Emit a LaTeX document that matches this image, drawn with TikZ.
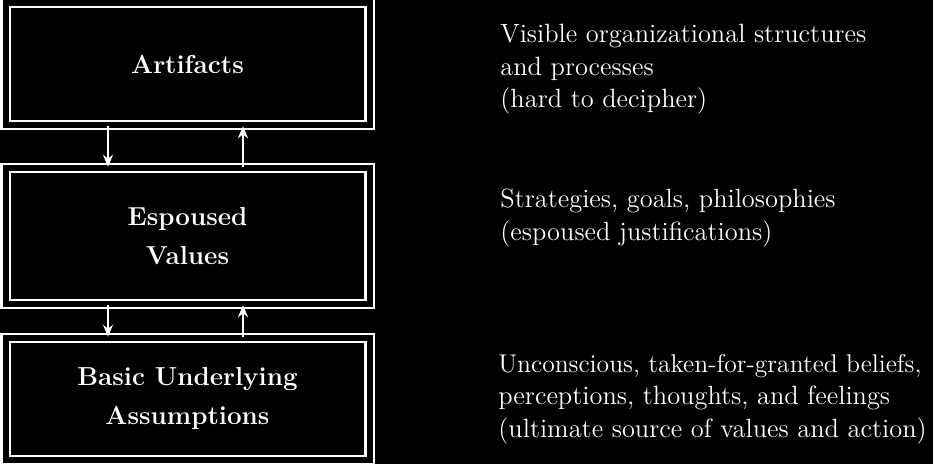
\documentclass[tikz,border=0pt]{standalone}
\usetikzlibrary{calc,arrows.meta}
\begin{document}
\begin{tikzpicture}[x=0.5pt,y=-0.5pt,
  layer/.style={draw=white, line width=1.2pt, double=black, double distance=3pt,
    minimum width=182pt, text=white, align=center,
    font=\fontsize{13}{19.5}\selectfont\bfseries},
  note/.style={anchor=north west, inner sep=0pt, text=white, align=left,
    font=\fontsize{13.2}{16.2}\selectfont},
  arr/.style={draw=white, line width=1.2pt, -{Stealth[length=6pt,width=5pt]}}]
\fill[black] (0,0) rectangle (933,464);
\useasboundingbox (0,0) rectangle (933,464);
\node[layer, minimum height=61pt] (art) at (187.5,64) {Artifacts};
\node[layer, minimum height=68pt] (val) at (187.5,236) {Espoused\\Values};
\node[layer, minimum height=61pt] (bas) at (187.5,399) {Basic Underlying\\Assumptions};
\draw[arr] ($(art.south)+(-79.5,0)$) -- ($(val.north)+(-79.5,0)$);
\draw[arr] ($(val.north)+(55.5,0)$) -- ($(art.south)+(55.5,0)$);
\draw[arr] ($(val.south)+(-79.5,0)$) -- ($(bas.north)+(-79.5,0)$);
\draw[arr] ($(bas.north)+(55.5,0)$) -- ($(val.south)+(55.5,0)$);
\node[note] (n1) at (500,24) {Visible organizational structures\\and processes\\(hard to decipher)};
\node[note] (n2) at (500,189) {Strategies, goals, philosophies\\(espoused justifications)};
\node[note] (n3) at (498,354) {\fontsize{12.8}{17}\selectfont Unconscious, taken-for-granted beliefs,\\perceptions, thoughts, and feelings\\(ultimate source of values and action)};
\end{tikzpicture}
\end{document}
